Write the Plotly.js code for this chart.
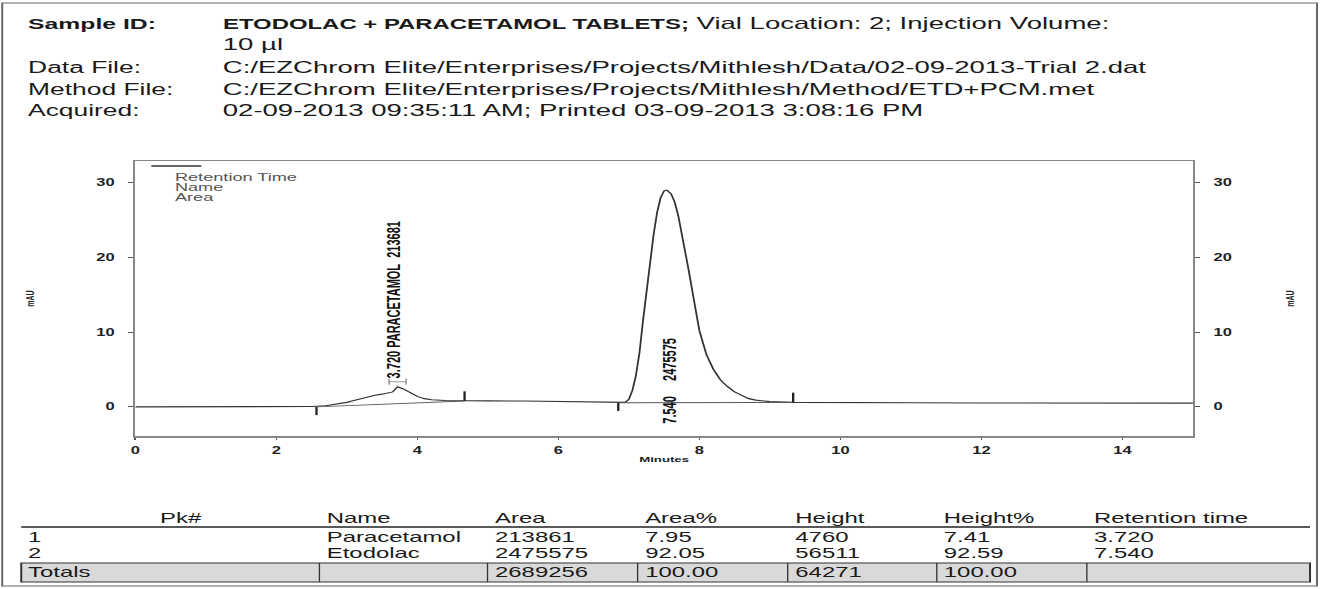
<!DOCTYPE html>
<html><head><meta charset="utf-8">
<script src="https://cdn.plot.ly/plotly-3.0.1.min.js"></script>
<style>
html,body{margin:0;padding:0;background:#fff;overflow:hidden}
#wrap{width:1321px;height:589px;overflow:hidden;position:relative}
#chart{width:801px;height:589px;transform:scaleX(1.65);transform-origin:0 0}
</style></head><body>
<div id="wrap"><div id="chart"></div></div>
<script>
// ---------------- data ----------------
const timeMin = [0,0.5,1,1.5,2,2.5,2.7,2.9,3.0,3.1,3.2,3.3,3.4,3.5,3.6,3.65,3.72,3.8,3.9,4.0,4.1,4.2,4.4,4.67,5.0,5.5,6.0,6.5,6.85,6.95,7.0,7.05,7.1,7.15,7.2,7.25,7.3,7.35,7.4,7.45,7.5,7.54,7.6,7.65,7.7,7.75,7.8,7.85,7.9,7.95,8.0,8.1,8.2,8.3,8.4,8.5,8.6,8.7,8.8,9.0,9.33,10,11,12,13,14,15];
const signalMAU = [0,0,0,0,0,0.05,0.15,0.4,0.6,0.85,1.1,1.35,1.55,1.7,1.85,2.0,2.7,2.4,1.9,1.4,1.1,0.95,0.85,0.8,0.8,0.78,0.72,0.62,0.55,0.6,1.0,2.2,4.2,7.2,11.5,15.5,19.5,23.0,26.0,28.0,28.9,29.0,28.5,27.4,25.6,23.3,20.8,18.2,15.5,12.8,10.2,7.0,5.0,3.6,2.7,2.0,1.5,1.1,0.9,0.7,0.6,0.55,0.55,0.52,0.5,0.5,0.5];

const peakRT = [3.720, 7.540];
const peakLabelText = ['3.720 PARACETAMOL\u00a0\u00a0213681', '7.540\u00a0\u00a0\u00a0\u00a0\u00a02475575'];
const peakStart = [2.57, 6.85];
const peakEnd = [4.67, 9.33];
const peakStartLevel = [0.0, 0.55];
const peakEndLevel = [0.78, 0.6];
const peakLabelY = [3.6, -2.5];
const peakMarkRT = [3.72];
const peakMarkY = [3.35];

const yTicks = [0, 10, 20, 30];
const xTicks = [0, 2, 4, 6, 8, 10, 12, 14];

const headerLabels = ['Sample ID:', '', 'Data File:', 'Method File:', 'Acquired:'];
const headerValues = ["<span style=\"font-size:14.5px\"><b>ETODOLAC + PARACETAMOL TABLETS;</b></span> Vial Location: 2; Injection Volume:", '10 µl',
  'C:/EZChrom Elite/Enterprises/Projects/Mithlesh/Data/02-09-2013-Trial 2.dat',
  'C:/EZChrom Elite/Enterprises/Projects/Mithlesh/Method/ETD+PCM.met',
  '02-09-2013 09:35:11 AM; Printed 03-09-2013 3:08:16 PM'];
const legendLines = ['Retention Time', 'Name', 'Area'];

const tableHeaders = ['Pk#', 'Name', 'Area', 'Area%', 'Height', 'Height%', 'Retention time'];
const pkNums = ['1', '2'];
const pkNames = ['Paracetamol', 'Etodolac'];
const pkAreas = ['213861', '2475575'];
const pkAreaPct = ['7.95', '92.05'];
const pkHeights = ['4760', '56511'];
const pkHeightPct = ['7.41', '92.59'];
const pkRetTimes = ['3.720', '7.540'];
const totalsRow = ['Totals', '', '2689256', '100.00', '64271', '100.00', ''];

// ---------------- layout helpers ----------------
const S = 1.65, W = 1321 / S, H = 589;
const L = 136 / S, R = W - 1193 / S, T = 161, B = H - 436;
const pX = x => (x - 136) / 1057;          // reference px -> paper x
const pY = y => (436 - y) / 275;           // reference px -> paper y
const FONT = 'Liberation Sans, Arial, Helvetica, sans-serif';
const txt = '#1a1a1a';

const annotations = [];
const shapes = [];
function ann(x, y, text, size, opts) {
  annotations.push(Object.assign({xref:'paper', yref:'paper', x:pX(x), y:pY(y), text:text,
    showarrow:false, xanchor:'left', yanchor:'middle', font:{family:FONT, size:size, color:txt}}, opts||{}));
}
// header
const rowsY = [24, 45, 67, 89, 111];
headerLabels.forEach((t, i) => { if (t) ann(25, rowsY[i], t, 16, i === 0 ? {font:{family:FONT,size:15,color:txt,weight:'bold'}} : {}); });
headerValues.forEach((t, i) => ann(220, rowsY[i], t, 16.7));

// legend block
shapes.push({type:'line', xref:'paper', yref:'paper', x0:pX(152), x1:pX(202), y0:pY(166), y1:pY(166), line:{color:'#333', width:1.5}});
legendLines.forEach((t, i) => ann(173, 177 + i * 10, t, 11, {font:{family:FONT, size:11, color:'#555'}}));

// peak labels
peakRT.forEach((rt, i) => {
  annotations.push({xref:'x', yref:'y', x:rt, y:peakLabelY[i], text:peakLabelText[i], textangle:-90,
    showarrow:false, xanchor:'center', yanchor:'bottom', xshift: i === 0 ? -2 : 1,
    font:{family:FONT, size:11, color:'#111', weight:'bold'}});
});

// table
const colX = [158, 324, 492, 642, 792, 941, 1091];
tableHeaders.forEach((t, i) => ann(colX[i], 518, t, 14.5));
shapes.push({type:'line', xref:'paper', yref:'paper', x0:pX(22), x1:pX(1310), y0:pY(527), y1:pY(527), line:{color:'#222', width:1.5}});
const rowsData = [pkNums, pkNames, pkAreas, pkAreaPct, pkHeights, pkHeightPct, pkRetTimes];
const dataRowY = [537, 553];
pkNums.forEach((_, r) => {
  rowsData.forEach((col, c) => ann(c === 0 ? 25 : colX[c], dataRowY[r], col[r], 14.5));
});
shapes.push({type:'rect', xref:'paper', yref:'paper', x0:pX(22), x1:pX(1310), y0:pY(563), y1:pY(582), fillcolor:'#d9d9d9', line:{color:'#333', width:1.2}, layer:'below'});
const sepX = [320, 488, 638, 788, 937, 1087];
sepX.forEach(x => shapes.push({type:'line', xref:'paper', yref:'paper', x0:pX(x), x1:pX(x), y0:pY(563), y1:pY(582), line:{color:'#333', width:0.8}}));
totalsRow.forEach((t, c) => { if (t) ann(c === 0 ? 25 : colX[c], 572, t, 14.5); });

// outer frame
shapes.push({type:'rect', xref:'paper', yref:'paper', x0:pX(3), x1:pX(1317), y0:pY(3), y1:pY(586), line:{color:'#666', width:1.2}, fillcolor:'rgba(0,0,0,0)'});

// ---------------- traces ----------------
const baseX = [], baseY = [];
const tickX = [], tickY = [];
peakStart.forEach((s, i) => {
  baseX.push(s, peakEnd[i], null); baseY.push(peakStartLevel[i], peakEndLevel[i], null);
  tickX.push(s, s, null, peakEnd[i], peakEnd[i], null);
  tickY.push(peakStartLevel[i], peakStartLevel[i] - 1.1, null, peakEndLevel[i], peakEndLevel[i] + 1.3, null);
});

const traces = [
  {x: timeMin, y: signalMAU, type:'scatter', mode:'lines', line:{color:'#333', width:1.1}, hoverinfo:'skip'},
  {x: baseX, y: baseY, type:'scatter', mode:'lines', yaxis:'y2', line:{color:'#555', width:0.9}, hoverinfo:'skip'},
  {x: tickX, y: tickY, type:'scatter', mode:'lines', line:{color:'#222', width:1.4}, hoverinfo:'skip'},
  {x: peakMarkRT, y: peakMarkY, type:'scatter', mode:'markers', marker:{size:1, color:'rgba(0,0,0,0)'},
   error_x:{type:'data', array:[0.12], symmetric:true, width:3, thickness:1, color:'#999'}, hoverinfo:'skip'}
];

const tickFont = {family:FONT, size:10, color:'#222', weight:'bold'};
const yCommon = {range:[-3.9, 32.9], autorange:false, tickvals:yTicks, ticks:'outside', ticklen:3, tickwidth:1, tickcolor:'#555',
  showline:true, linecolor:'#888', linewidth:1.5, zeroline:false, showgrid:false, tickfont:tickFont, ticklabelstandoff:6};

const layout = {
  width: W, height: H,
  margin:{l:L, r:R, t:T, b:B, pad:0},
  paper_bgcolor:'#fff', plot_bgcolor:'#fff',
  showlegend:false,
  font:{family:FONT, color:txt},
  xaxis:{range:[0, 15], autorange:false, tickvals:xTicks, ticks:'outside', ticklen:2, tickwidth:1, tickcolor:'#555',
    showline:true, mirror:true, linecolor:'#888', linewidth:1.5, zeroline:false, showgrid:false, tickfont:tickFont, ticklabelstandoff:3,
    title:{text:'Minutes', font:{family:FONT, size:8, color:'#222', weight:'bold'}, standoff:1}},
  yaxis: Object.assign({}, yCommon, {title:{text:'mAU', font:{family:FONT, size:7, color:'#222', weight:'bold'}, standoff:36}}),
  yaxis2: Object.assign({}, yCommon, {overlaying:'y', side:'right', title:{text:'mAU', font:{family:FONT, size:7, color:'#222', weight:'bold'}, standoff:33}}),
  annotations: annotations,
  shapes: shapes
};

Plotly.newPlot('chart', traces, layout, {displayModeBar:false, staticPlot:true});
</script>
</body></html>
